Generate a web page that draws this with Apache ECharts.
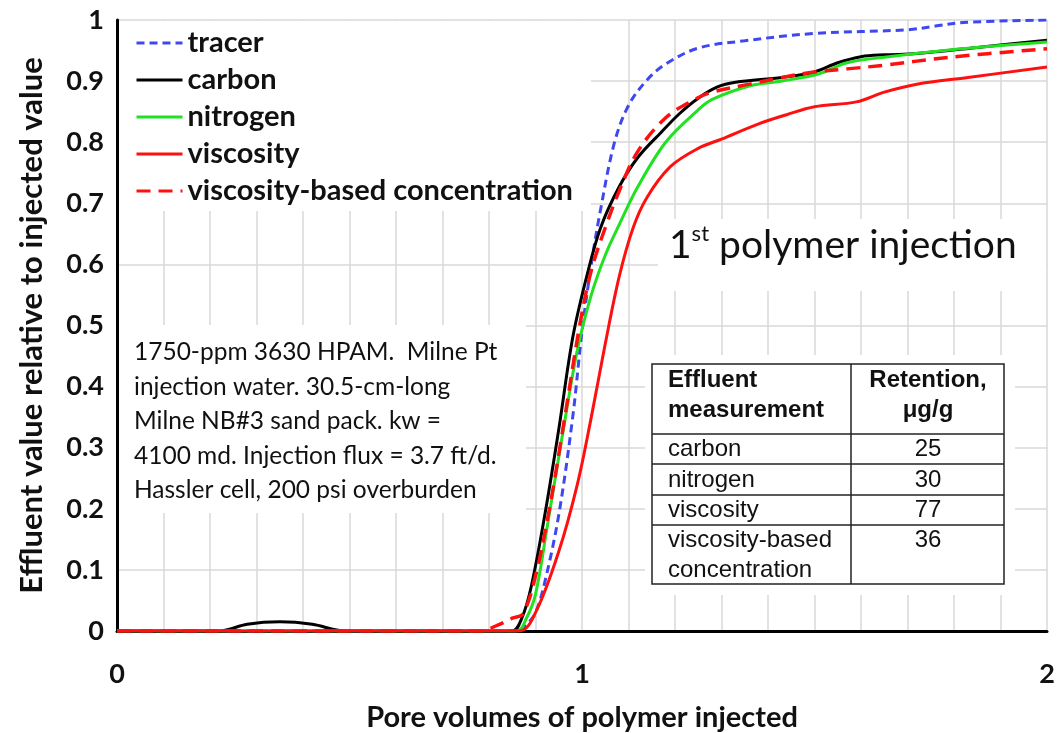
<!DOCTYPE html>
<html>
<head>
<meta charset="utf-8">
<script src="https://cdn.jsdelivr.net/npm/echarts@6/dist/echarts.min.js"></script>
<style>
  html, body { margin: 0; padding: 0; background: #fff; }
  #chart { width: 1060px; height: 733px; }
</style>
</head>
<body>
<div id="chart"></div>
<script>
// pore volumes (x) and normalised effluent values (y)
const pvTracer = [0, 0.86, 0.88, 0.9, 0.92, 0.95, 0.98, 1.0, 1.02, 1.04, 1.07, 1.1, 1.14, 1.18, 1.25, 1.35, 1.5, 1.7, 1.76, 1.82, 2.0];
const tracer = [0, 0, 0.01, 0.03, 0.08, 0.19, 0.35, 0.49, 0.6, 0.69, 0.8, 0.86, 0.902, 0.928, 0.954, 0.966, 0.978, 0.984, 0.99, 0.996, 1.0];

const pvCarbon = [0, 0.22, 0.28, 0.35, 0.42, 0.49, 0.85, 0.87, 0.89, 0.92, 0.95, 0.98, 1.01, 1.04, 1.08, 1.12, 1.17, 1.21, 1.25, 1.29, 1.33, 1.43, 1.5, 1.55, 1.6, 1.65, 1.72, 1.86, 2.0];
const carbon = [0, 0, 0.011, 0.015, 0.011, 0, 0, 0.02, 0.07, 0.19, 0.33, 0.48, 0.58, 0.66, 0.727, 0.775, 0.816, 0.847, 0.872, 0.89, 0.898, 0.906, 0.915, 0.93, 0.94, 0.943, 0.945, 0.956, 0.967];

const pvNitrogen = [0, 0.86, 0.88, 0.9, 0.925, 0.96, 0.99, 1.02, 1.05, 1.08, 1.12, 1.18, 1.25, 1.28, 1.36, 1.43, 1.51, 1.57, 1.65, 1.79, 2.0];
const nitrogen = [0, 0, 0.02, 0.06, 0.17, 0.33, 0.46, 0.55, 0.615, 0.665, 0.727, 0.8, 0.853, 0.87, 0.892, 0.9, 0.912, 0.93, 0.939, 0.951, 0.964];

const pvViscosity = [0, 0.865, 0.9, 0.95, 0.99, 1.02, 1.05, 1.08, 1.11, 1.14, 1.19, 1.25, 1.3, 1.38, 1.44, 1.5, 1.59, 1.65, 1.72, 1.83, 2.0];
const viscosity = [0, 0, 0.03, 0.13, 0.24, 0.35, 0.47, 0.58, 0.66, 0.71, 0.76, 0.79, 0.805, 0.83, 0.845, 0.858, 0.866, 0.882, 0.895, 0.906, 0.923];

const pvViscConc = [0, 0.78, 0.82, 0.85, 0.873, 0.9, 0.93, 0.962, 0.995, 1.02, 1.05, 1.08, 1.12, 1.18, 1.24, 1.28, 1.36, 1.43, 1.5, 1.57, 1.65, 1.79, 2.0];
const viscConc = [0, 0, 0.01, 0.021, 0.028, 0.09, 0.2, 0.345, 0.5, 0.59, 0.66, 0.72, 0.785, 0.84, 0.869, 0.882, 0.895, 0.906, 0.915, 0.92, 0.926, 0.939, 0.953];

const seriesNames = ['tracer', 'carbon', 'nitrogen', 'viscosity', 'viscosity-based concentration'];

// retention table
const tableMeasure = ['carbon', 'nitrogen', 'viscosity', 'viscosity-based\nconcentration'];
const tableRetention = ['25', '30', '77', '36'];

const annotation = [
  '1750-ppm 3630 HPAM.  Milne Pt',
  'injection water. 30.5-cm-long',
  'Milne NB#3 sand pack. kw =',
  '4100 md. Injection flux = 3.7 ft/d.',
  'Hassler cell, 200 psi overburden'
];

function zip(xs, ys) {
  return xs.map((x, i) => [x, ys[i]]);
}

const chart = echarts.init(document.getElementById('chart'));
const gridColor = '#d9d9d9';
const font = 'Lato';

// table geometry
const tX = 652, tY = 364, tW = 352, tH = 220, tSplit = 851;
const rowLines = [434, 464, 495, 525];
const rowMid = [449, 480, 510, 540];

let graphics = [
  // white patches behind the text blocks
  { type: 'rect', z: 1, shape: { x: 119, y: 21, width: 472, height: 190 }, style: { fill: '#fff' } },
  { type: 'rect', z: 1, shape: { x: 119, y: 325, width: 407, height: 188 }, style: { fill: '#fff' } },
  { type: 'rect', z: 1, shape: { x: 658, y: 219, width: 388, height: 72 }, style: { fill: '#fff' } },
  { type: 'rect', z: 1, shape: { x: 645, y: 355, width: 370, height: 240 }, style: { fill: '#fff' } },
  {
    type: 'text', z: 5, x: 134, y: 335,
    style: { text: annotation.join('\n'), font: '24.5px ' + font, fill: '#111', lineHeight: 34.5, verticalAlign: 'top' }
  },
  {
    type: 'text', z: 5, x: 669, y: 245,
    style: {
      text: '{a|1}{s|st}{a| polymer injection}',
      verticalAlign: 'middle',
      rich: {
        a: { fontFamily: font, fontSize: 39, lineHeight: 44, fill: '#111', color: '#111' },
        s: { fontFamily: font, fontSize: 22, lineHeight: 44, verticalAlign: 'top', fill: '#111', color: '#111' }
      }
    }
  },
  // table frame
  { type: 'rect', z: 5, shape: { x: tX, y: tY, width: tW, height: tH }, style: { fill: 'none', stroke: '#222', lineWidth: 1.5 } },
  { type: 'line', z: 5, shape: { x1: tSplit, y1: tY, x2: tSplit, y2: tY + tH }, style: { stroke: '#222', lineWidth: 1.5 } },
  {
    type: 'text', z: 5, x: 668, y: 395,
    style: { text: 'Effluent\nmeasurement', font: 'bold 24px "Liberation Sans"', fill: '#111', lineHeight: 30, verticalAlign: 'middle' }
  },
  {
    type: 'text', z: 5, x: 928, y: 395,
    style: { text: 'Retention,\nμg/g', font: 'bold 24px "Liberation Sans"', fill: '#111', lineHeight: 30, align: 'center', verticalAlign: 'middle' }
  }
];
rowLines.forEach((y) => {
  graphics.push({ type: 'line', z: 5, shape: { x1: tX, y1: y, x2: tX + tW, y2: y }, style: { stroke: '#222', lineWidth: 1.5 } });
});
tableMeasure.forEach((m, i) => {
  graphics.push({
    type: 'text', z: 5, x: 668, y: rowMid[i] - 15,
    style: { text: m, font: '24px "Liberation Sans"', fill: '#111', lineHeight: 30, verticalAlign: 'top' }
  });
  graphics.push({
    type: 'text', z: 5, x: 928, y: rowMid[i] - 15,
    style: { text: tableRetention[i], font: '24px "Liberation Sans"', fill: '#111', lineHeight: 30, align: 'center', verticalAlign: 'top' }
  });
});

function lineSeries(name, data, color, type, width) {
  return {
    name: name,
    type: 'line',
    data: data,
    smooth: 0.35,
    symbol: 'none',
    z: 3,
    lineStyle: { color: color, width: width, type: type },
    itemStyle: { color: color }
  };
}

const option = {
  backgroundColor: '#fff',
  animation: false,
  textStyle: { fontFamily: font },
  grid: { left: 117, right: 13, top: 20, bottom: 102, containLabel: false, outerBoundsMode: 'none' },
  legend: {
    orient: 'vertical',
    left: 130,
    top: 23,
    itemWidth: 46,
    itemHeight: 14,
    itemGap: 7,
    data: seriesNames,
    itemStyle: { opacity: 0 },
    lineStyle: { width: 3 },
    textStyle: { fontFamily: font, fontWeight: 'bold', fontSize: 29, color: '#111', lineHeight: 30 }
  },
  xAxis: {
    type: 'value',
    min: 0,
    max: 2,
    interval: 1,
    name: 'Pore volumes of polymer injected',
    nameLocation: 'middle',
    nameGap: 72,
    nameTextStyle: { fontFamily: font, fontWeight: 'bold', fontSize: 29, color: '#111' },
    axisLine: { onZero: false, lineStyle: { color: '#000', width: 3 } },
    axisTick: { show: false },
    axisLabel: { margin: 30, fontFamily: font, fontWeight: 'bold', fontSize: 27, color: '#111' },
    splitLine: { show: true, lineStyle: { color: gridColor, width: 1.5 } },
    minorTick: { show: false, splitNumber: 10 },
    minorSplitLine: { show: true, lineStyle: { color: gridColor, width: 1.5 } }
  },
  yAxis: {
    type: 'value',
    min: 0,
    max: 1,
    interval: 0.1,
    name: 'Effluent value relative to injected value',
    nameLocation: 'middle',
    nameGap: 70,
    nameTextStyle: { fontFamily: font, fontWeight: 'bold', fontSize: 31, color: '#111' },
    axisLine: { show: true, lineStyle: { color: '#000', width: 3 } },
    axisTick: { show: false },
    axisLabel: { margin: 13, fontFamily: font, fontWeight: 'bold', fontSize: 27, color: '#111' },
    splitLine: { show: true, lineStyle: { color: gridColor, width: 1.5 } }
  },
  graphic: { elements: graphics },
  series: [
    lineSeries('tracer', zip(pvTracer, tracer), '#3f48f0', [8, 5], 3),
    lineSeries('carbon', zip(pvCarbon, carbon), '#000000', 'solid', 3),
    lineSeries('nitrogen', zip(pvNitrogen, nitrogen), '#22e022', 'solid', 3),
    lineSeries('viscosity', zip(pvViscosity, viscosity), '#ff1010', 'solid', 3),
    lineSeries('viscosity-based concentration', zip(pvViscConc, viscConc), '#ff1010', [14, 8], 3.5)
  ]
};

chart.setOption(option);
</script>
</body>
</html>
